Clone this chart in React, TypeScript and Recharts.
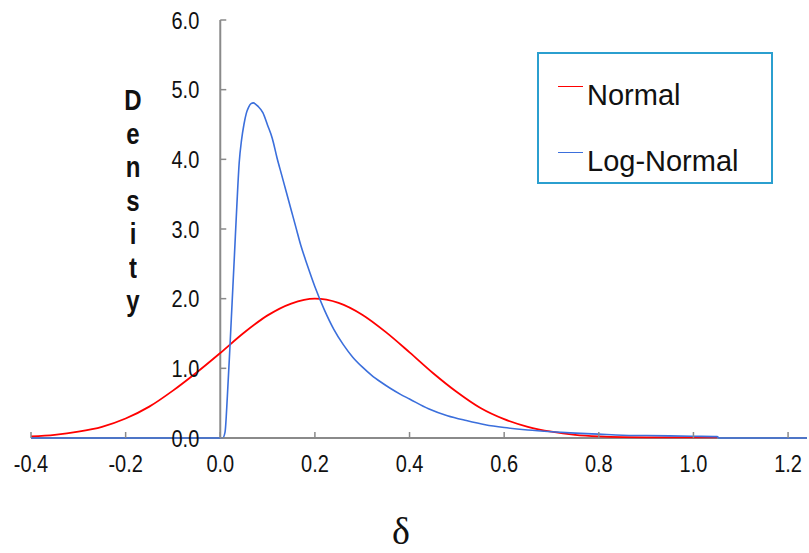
import { LineChart, Line, XAxis, YAxis, ReferenceLine, Legend } from "recharts"

// δ values and densities
const deltaNormal = [
  -0.4, -0.35, -0.3, -0.25, -0.2, -0.15, -0.1, -0.05, 0, 0.05, 0.1, 0.15, 0.2, 0.25, 0.3, 0.35, 0.4,
  0.45, 0.5, 0.55, 0.6, 0.65, 0.7, 0.75, 0.8, 0.85, 0.9, 0.95, 1.0, 1.05,
]
const densityNormal = [
  0.022, 0.045, 0.09, 0.16, 0.28, 0.45, 0.68, 0.94, 1.22, 1.51, 1.76, 1.93, 2.0, 1.94, 1.77, 1.52,
  1.23, 0.93, 0.66, 0.43, 0.27, 0.16, 0.09, 0.045, 0.022, 0.012, 0.01, 0.01, 0.01, 0.01,
]

const deltaLogNormal = [
  -0.4, 0, 0.005, 0.01, 0.015, 0.02, 0.025, 0.03, 0.035, 0.04, 0.045, 0.05, 0.055, 0.06, 0.065, 0.07,
  0.075, 0.08, 0.09, 0.1, 0.11, 0.12, 0.13, 0.14, 0.15, 0.16, 0.17, 0.18, 0.19, 0.2, 0.22, 0.24, 0.26,
  0.28, 0.3, 0.32, 0.34, 0.36, 0.38, 0.4, 0.44, 0.48, 0.52, 0.56, 0.6, 0.65, 0.7, 0.75, 0.8, 0.85, 0.9,
  0.95, 1.0, 1.05, 1.055, 1.24,
]
const densityLogNormal = [
  0, 0, 0, 0.08, 0.6, 1.25, 1.94, 2.63, 3.33, 3.95, 4.28, 4.5, 4.66, 4.75, 4.8, 4.81, 4.79, 4.76, 4.67,
  4.49, 4.3, 4.02, 3.77, 3.52, 3.27, 3.02, 2.77, 2.56, 2.36, 2.17, 1.84, 1.56, 1.34, 1.16, 1.02, 0.9,
  0.8, 0.71, 0.63, 0.56, 0.42, 0.32, 0.25, 0.19, 0.15, 0.115, 0.09, 0.07, 0.055, 0.04, 0.035, 0.03,
  0.025, 0.02, 0, 0,
]

const seriesNames = ["Normal", "Log-Normal"]
const xTicks = [-0.4, -0.2, 0, 0.2, 0.4, 0.6, 0.8, 1.0, 1.2]
const yTicks = [0, 1, 2, 3, 4, 5, 6]
const yLabel = ["D", "e", "n", "s", "i", "t", "y"]

const normalData = deltaNormal.map((d, i) => ({ delta: d, density: densityNormal[i] }))
const logNormalData = deltaLogNormal.map((d, i) => ({ delta: d, density: densityLogNormal[i] }))

const W = 809
const H = 553
const MARGIN = { top: 20, right: 2, bottom: 85, left: 30 }
const Y_AXIS_W = 1
const X_MIN = -0.4
const X_MAX = 1.24
const PLOT_LEFT = MARGIN.left + Y_AXIS_W
const PLOT_W = W - PLOT_LEFT - MARGIN.right
// pixel where the vertical axis (δ = 0) sits
const AX = PLOT_LEFT + ((0 - X_MIN) / (X_MAX - X_MIN)) * PLOT_W

const FONT = "'Liberation Sans', Arial, sans-serif"
const GRAY = "#8a8a8a"

function XTick({ x, y, payload }: any) {
  return (
    <g>
      <line x1={x} x2={x} y1={y} y2={y - 6} stroke={GRAY} strokeWidth={1.5} />
      <text
        transform={`translate(${x},${y + 34}) scale(1,1.2)`}
        textAnchor="middle"
        fontSize={20}
        fontFamily={FONT}
        fill="#111"
      >
        {Number(payload.value).toFixed(1)}
      </text>
    </g>
  )
}

function YTick({ y, payload }: any) {
  return (
    <g>
      <line x1={AX} x2={AX + 6} y1={y} y2={y} stroke={GRAY} strokeWidth={1.5} />
      <text
        transform={`translate(${AX - 21},${y + 8.5}) scale(1,1.2)`}
        textAnchor="end"
        fontSize={20}
        fontFamily={FONT}
        fill="#111"
      >
        {Number(payload.value).toFixed(1)}
      </text>
    </g>
  )
}

function LegendBox({ payload }: any) {
  const items = [...(payload || [])].sort(
    (a: any, b: any) => seriesNames.indexOf(a.value) - seriesNames.indexOf(b.value)
  )
  return (
    <div
      style={{
        position: "relative",
        width: 232,
        height: 128,
        border: "2px solid #2b9fcf",
        background: "#fff",
        fontFamily: FONT,
      }}
    >
      {items.map((p: any, i: number) => (
        <div key={p.value}>
          <div
            style={{
              position: "absolute",
              left: 19,
              top: 32 + 66 * i,
              width: 25,
              height: 0,
              borderTop: `1.5px solid ${p.color}`,
            }}
          />
          <div
            style={{
              position: "absolute",
              left: 48,
              top: 27 + 66 * i,
              fontSize: 29,
              lineHeight: "29px",
              color: "#111",
              whiteSpace: "nowrap",
            }}
          >
            {p.value}
          </div>
        </div>
      ))}
    </div>
  )
}

export default function App() {
  return (
    <div style={{ position: "absolute", left: 0, top: 0, width: W, height: H, background: "#fff" }}>
      <LineChart width={W} height={H} margin={MARGIN}>
        <XAxis
          dataKey="delta"
          type="number"
          domain={[X_MIN, X_MAX]}
          ticks={xTicks}
          interval={0}
          axisLine={{ stroke: GRAY, strokeWidth: 2 }}
          tickLine={false}
          tickSize={0}
          tickMargin={0}
          tick={<XTick />}
        />
        <YAxis
          type="number"
          domain={[0, 6]}
          ticks={yTicks}
          interval={0}
          width={Y_AXIS_W}
          axisLine={false}
          tickLine={false}
          tickSize={0}
          tickMargin={0}
          tick={<YTick />}
        />
        <ReferenceLine x={0} stroke={GRAY} strokeWidth={2} />
        <Line
          data={normalData}
          dataKey="density"
          name="Normal"
          type="monotone"
          stroke="#ff0000"
          strokeWidth={1.8}
          dot={false}
          isAnimationActive={false}
          zIndex={600}
        />
        <Line
          data={logNormalData}
          dataKey="density"
          name="Log-Normal"
          type="monotone"
          stroke="#3b6fdc"
          strokeWidth={1.6}
          dot={false}
          isAnimationActive={false}
          zIndex={610}
        />
        <Legend
          layout="vertical"
          align="center"
          verticalAlign="middle"
          content={<LegendBox />}
          wrapperStyle={{ left: 537, top: 52, width: 236, height: 132 }}
        />
      </LineChart>
      <div
        style={{
          position: "absolute",
          left: 113,
          top: 83,
          width: 40,
          fontFamily: FONT,
          fontWeight: "bold",
          fontSize: 24,
          color: "#111",
          textAlign: "center",
        }}
      >
        {yLabel.map((c, i) => (
          <div key={i} style={{ height: 33.5, lineHeight: "33.5px" }}>
            <span style={{ display: "inline-block", transform: "scaleY(1.25)" }}>{c}</span>
          </div>
        ))}
      </div>
      <div
        style={{
          position: "absolute",
          left: 361,
          top: 514,
          width: 80,
          textAlign: "center",
          fontFamily: "'Liberation Serif', 'Times New Roman', serif",
          fontSize: 38,
          lineHeight: "34px",
          color: "#111",
        }}
      >
        δ
      </div>
    </div>
  )
}
